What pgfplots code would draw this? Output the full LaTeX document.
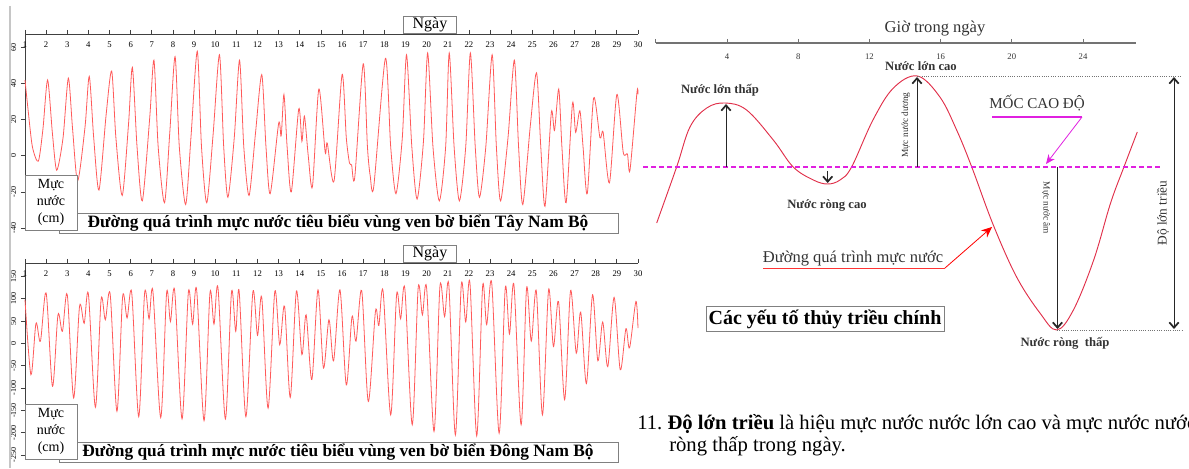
\documentclass[border=0pt]{standalone}
\usepackage{pgfplots}
\pgfplotsset{compat=1.18}
\usepackage{fontspec}
\setmainfont{Liberation Serif}
\usetikzlibrary{arrows.meta}
\definecolor{tide}{HTML}{FF5A5A}
\definecolor{tide2}{HTML}{E0304A}
\definecolor{datum}{HTML}{E020E0}
\definecolor{txt}{HTML}{333333}
\begin{document}
\begin{tikzpicture}[x=0.75pt,y=0.75pt]
\useasboundingbox (0,0) rectangle (1189,468);
% ---------------- Top-left: Tay Nam Bo ----------------
\begin{axis}[at={(18.75pt,325.5pt)}, anchor=north west, scale only axis,
  width=459.75pt, height=145.5pt,
  xmin=1, xmax=30, ymin=-40, ymax=67.5,
  axis x line*=top, axis y line*=left,
  axis line style={black!75, line width=0.6pt},
  tick align=outside, major tick length=3pt,
  every tick/.style={black!75, line width=0.6pt},
  xtick={1,...,30}, ytick={-40,-20,...,60},
  xticklabel style={anchor=north, yshift=-5.5pt, font=\fontsize{6.5}{7}\selectfont},
  yticklabel style={rotate=90, anchor=south, font=\fontsize{6}{7}\selectfont},
  /pgf/number format/assume math mode=true,
  clip=false]
\addplot[tide, line width=0.6pt, smooth, tension=0.45] coordinates {
(1.00,42)(1.15,25)(1.35,5)(1.63,-3)(1.85,15)(2.07,42)(2.30,12)(2.50,-8)(2.80,10)
(3.05,43)(3.25,15)(3.49,-14)(3.84,16)(4.04,44)(4.25,10)(4.50,-19)(4.84,23)
(5.10,47)(5.30,10)(5.60,-22)(5.90,18)(6.08,49)(6.30,5)(6.55,-25)(6.90,21)
(7.10,53)(7.30,5)(7.60,-26)(7.85,13)(8.10,55)(8.30,5)(8.60,-27)(8.85,10)
(9.15,58)(9.35,5)(9.60,-26)(9.90,12)(10.20,56)(10.40,5)(10.60,-23)(10.90,10)
(11.15,53)(11.35,5)(11.60,-22)(11.90,12)(12.20,45)(12.40,5)(12.60,-21)
(13.00,18)(13.12,11)(13.25,34)(13.40,5)(13.60,-20)(13.95,26)(14.10,8)(14.22,22)
(14.40,0)(14.60,-17)(14.90,37)(15.20,2)(15.30,7)(15.62,-14)(16.00,45)(16.20,10)
(16.35,-4)(16.45,-5)(16.60,-12)(17.00,51)(17.20,5)(17.33,-11)(17.50,-17)
(18.05,54)(18.30,5)(18.55,-21)(18.85,10)(19.05,56)(19.30,5)(19.55,-24)(19.85,8)
(20.05,57)(20.30,5)(20.60,-25)(20.90,5)(21.07,57)(21.30,5)(21.55,-25)(21.85,5)
(22.07,57)(22.30,5)(22.50,-23)(22.80,5)(23.10,56)(23.30,5)(23.50,-25)(23.85,10)
(24.15,53)(24.35,5)(24.55,-27)(24.90,16)(25.20,46)(25.40,5)(25.60,-28)
(25.90,24)(26.05,14)(26.25,37)(26.40,5)(26.60,-26)(26.90,29)(27.05,13)(27.25,25)
(27.40,5)(27.60,-21)(27.90,32)(28.20,10)(28.35,13)(28.65,-15)(29.00,34)
(29.30,2)(29.50,1)(29.62,-8)(29.95,35)(30.00,34)};
\end{axis}
% ---------------- Bottom-left: Dong Nam Bo ----------------
\begin{axis}[at={(18.75pt,153.75pt)}, anchor=north west, scale only axis,
  width=459.75pt, height=144.75pt,
  xmin=1, xmax=30, ymin=-252, ymax=180,
  axis x line*=top, axis y line*=left,
  axis line style={black!75, line width=0.6pt},
  tick align=outside, major tick length=3pt,
  every tick/.style={black!75, line width=0.6pt},
  xtick={1,...,30}, ytick={-250,-200,...,150},
  xticklabel style={anchor=north, yshift=-5.5pt, font=\fontsize{6.5}{7}\selectfont},
  yticklabel style={rotate=90, anchor=south, font=\fontsize{6}{7}\selectfont},
  /pgf/number format/assume math mode=true,
  clip=false]
\addplot[tide, line width=0.6pt, smooth, tension=0.5] coordinates {
(1.00,98)(1.28,-70)(1.52,45)(1.73,5)(2.00,113)(2.30,-96)(2.56,64)(2.77,27)
(3.00,109)(3.30,-122)(3.58,83)(3.80,45)(4.00,110)(4.33,-143)(4.60,98)(4.80,53)
(5.03,110)(5.35,-152)(5.62,105)(5.83,57)(6.05,113)(6.38,-164)(6.66,113)(6.87,55)
(7.05,117)(7.42,-166)(7.70,113)(7.88,49)(8.08,118)(8.43,-169)(8.73,115)(8.93,43)
(9.12,120)(9.47,-173)(9.75,113)(9.94,43)(10.13,124)(10.48,-169)(10.77,115)(10.97,27)
(11.13,117)(11.45,-164)(11.78,115)(12.00,18)(12.20,103)(12.50,-145)(12.82,117)
(13.05,-3)(13.28,83)(13.55,-121)(13.84,117)(14.10,-25)(14.30,64)(14.57,-81)
(14.86,120)(15.12,-55)(15.38,53)(15.60,-39)(15.90,120)(16.20,-93)(16.47,60)
(16.66,5)(16.93,118)(17.24,-130)(17.58,72)(17.74,40)(17.94,117)(18.30,-160)
(18.58,109)(18.77,55)(18.97,122)(19.32,-182)(19.60,124)(19.80,64)(20.00,124)
(20.35,-197)(20.63,128)(20.85,60)(21.05,131)(21.36,-205)(21.64,131)(21.85,48)
(22.05,135)(22.37,-207)(22.65,128)(22.84,42)(23.08,135)(23.43,-201)(23.72,124)
(23.92,21)(24.13,131)(24.47,-182)(24.73,124)(24.95,5)(25.19,117)(25.48,-160)
(25.77,120)(26.00,-7)(26.24,94)(26.53,-126)(26.81,118)(27.08,-22)(27.29,70)
(27.56,-90)(27.85,109)(28.10,-39)(28.33,48)(28.57,-52)(28.87,103)(29.16,-59)
(29.43,33)(29.60,-10)(29.90,94)(30.00,34)};
\end{axis}
% ---------------- Right: tidal elements ----------------
\begin{axis}[at={(491.85pt,318.75pt)}, anchor=north west, scale only axis,
  width=360.45pt, height=220.5pt,
  xmin=0, xmax=27, ymin=-170, ymax=124,
  axis x line*=top, axis y line=none,
  axis line style={black!55, line width=0.8pt},
  tick align=outside, major tick length=3pt,
  every tick/.style={black!55, line width=0.7pt},
  xtick={0,4,...,24}, xticklabels={,4,8,12,16,20,24},
  xticklabel style={anchor=north, yshift=-7.5pt, text=txt, font=\fontsize{6.5}{7}\selectfont},
  /pgf/number format/assume math mode=true,
  clip=false]
\addplot[tide2, line width=0.7pt, smooth, tension=0.6] coordinates {
(0.05,-56)(1.17,0)(1.92,40)(2.86,59)(3.89,64)(5.1,57)(6.6,27)(7.72,0)(8.85,-13)
(9.65,-17)(10.35,-13)(11.0,0)(12.2,47)(13.35,79)(14.7,91)(15.96,70)(16.9,37)
(17.75,0)(18.96,-58)(20.27,-110)(21.58,-146)(22.52,-163)(23.46,-143)(24.6,-93)
(25.55,-36)(26.3,0)(27.05,35)};
\end{axis}
\begin{scope}[shift={(0,468)}, yscale=-1]
\draw[gray!45, line width=0.8pt] (10,6) -- (10,468);
% annotations (right)
\node[text=txt, font=\fontsize{12.4}{13}\selectfont] at (935,29) {Giờ trong ngày};
\draw[datum, line width=1.3pt, dash pattern=on 4pt off 2pt] (643,167) -- (1160,167);
\draw[black!55, densely dotted, line width=0.7pt] (917,76) -- (1182,76);
\draw[black!55, densely dotted, line width=0.7pt] (1057,330) -- (1182,330);
\tikzset{barb/.style={black!85, line width=0.6pt, -{Straight Barb[length=4pt,width=7pt,line width=1.3pt]}}}
\draw[barb] (726,167) -- (726,104);
\draw[barb] (917,167) -- (917,77);
\draw[barb] (1057.5,167) -- (1057.5,329);
\draw[barb] (827.7,171) -- (827.7,183);
\draw[black!85, line width=0.6pt, {Straight Barb[length=4pt,width=7pt,line width=1.3pt]}-{Straight Barb[length=4pt,width=7pt,line width=1.3pt]}] (1174,77) -- (1174,329);
\node[text=txt, font=\bfseries\fontsize{9.5}{10}\selectfont] at (720,90) {Nước lớn thấp};
\node[text=txt, font=\bfseries\fontsize{9.5}{10}\selectfont] at (921,66) {Nước lớn cao};
\node[text=txt, font=\bfseries\fontsize{9.5}{10}\selectfont] at (827,205) {Nước ròng cao};
\node[text=txt, font=\bfseries\fontsize{9.5}{10}\selectfont] at (1065,343) {Nước ròng\enspace thấp};
\node[text=txt, rotate=90, font=\fontsize{7}{8}\selectfont] at (906,125) {Mực nước dương};
\node[text=txt, rotate=-90, font=\fontsize{7}{8}\selectfont] at (1046,208) {Mực nước âm};
\node[text=txt, rotate=90, font=\fontsize{10}{11}\selectfont] at (1163,213) {Độ lớn triều};
\node[text=txt, font=\fontsize{11.3}{12}\selectfont] at (1037,103) {MỐC CAO ĐỘ};
\draw[datum, line width=0.8pt] (992,117) -- (1082,117);
\draw[datum, line width=0.6pt, -{Stealth[length=7pt,width=6pt]}] (1082,117) -- (1046,164);
\node[text=txt, font=\fontsize{12.4}{13}\selectfont] at (853,259) {Đường quá trình mực nước};
\draw[red!80, line width=0.6pt] (763,268) -- (945,268);
\draw[red, line width=0.6pt, -{Stealth[length=8pt,width=7pt]}] (945,268) -- (992,227);
\node[draw=black!50, line width=0.6pt, fill=white, inner sep=2pt, font=\bfseries\fontsize{15}{16}\selectfont, minimum width=178pt, minimum height=17pt] at (825,319) {Các yếu tố thủy triều chính};
\node[anchor=base west, font=\fontsize{15.5}{16}\selectfont, inner sep=0] at (637,429) {11.\ \textbf{Độ lớn triều} là hiệu mực nước nước lớn cao và mực nước nước};
\node[anchor=base west, font=\fontsize{15.5}{16}\selectfont, inner sep=0] at (669,451) {ròng thấp trong ngày.};
% annotations (left)
\foreach \yo/\name in {0/Tây Nam Bộ, 229/Đông Nam Bộ}{
  \node[draw=black!50, fill=white, line width=0.6pt, inner sep=1pt, minimum width=40pt, minimum height=12pt, font=\fontsize{12}{13}\selectfont] at (430,25+\yo) {Ngày};
  \draw[black!50, fill=white, line width=0.6pt] (59,213+\yo) rectangle (618,233+\yo);
  \node[font=\bfseries\fontsize{13}{14}\selectfont] at (338,223+\yo) {Đường quá trình mực nước tiêu biểu vùng ven bờ biển \name};
  \draw[black!50, fill=white, line width=0.6pt] (25,175+\yo) rectangle (77,230+\yo);
  \node[align=center, font=\fontsize{10.5}{12.5}\selectfont] at (51,202.5+\yo) {Mực\\nước\\(cm)};
}
\end{scope}
\end{tikzpicture}
\end{document}
